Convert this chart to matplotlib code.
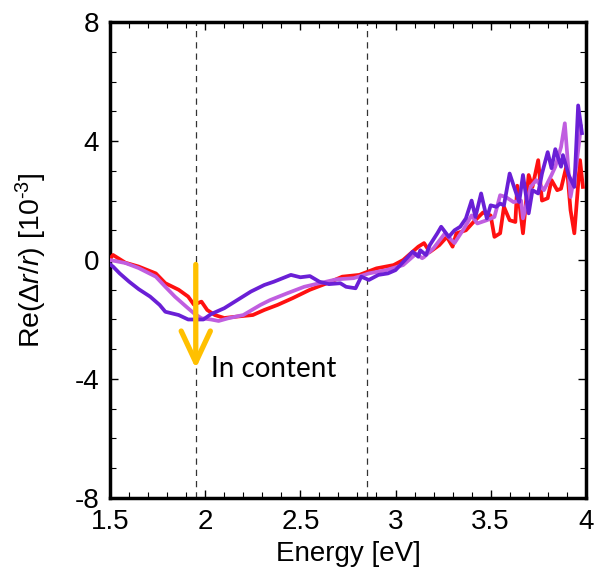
import matplotlib.pyplot as plt
from matplotlib.ticker import MultipleLocator

plt.rcParams['font.family'] = ['Liberation Sans', 'DejaVu Sans']
plt.rcParams['mathtext.fontset'] = 'custom'
plt.rcParams['mathtext.rm'] = 'Liberation Sans'
plt.rcParams['mathtext.it'] = 'Liberation Sans:italic'

# energy in eV, Re(dr/r) in 1e-3
red_e = [1.50, 1.515, 1.58, 1.65, 1.74, 1.79, 1.86, 1.91, 1.94, 1.98, 2.01, 2.05, 2.10, 2.17,
         2.25, 2.31, 2.38, 2.46, 2.55, 2.64, 2.72, 2.81, 2.90, 2.99, 3.04, 3.12, 3.15, 3.18,
         3.23, 3.27, 3.30, 3.32, 3.37, 3.41, 3.46, 3.50, 3.52, 3.55, 3.57, 3.60, 3.63, 3.64,
         3.67, 3.70, 3.72, 3.75, 3.77, 3.80, 3.82, 3.85, 3.87, 3.90, 3.92, 3.94, 3.97, 3.985]
red_v = [0.05, 0.17, -0.09, -0.22, -0.45, -0.78, -1.0, -1.23, -1.5, -1.4, -1.68, -1.85, -1.95, -1.9,
         -1.85, -1.68, -1.51, -1.28, -1.0, -0.78, -0.56, -0.5, -0.28, -0.17, 0.0, 0.45, 0.57, 0.27,
         0.5, 0.78, 0.45, 0.9, 1.0, 1.28, 1.6, 1.5, 0.78, 0.9, 1.79, 1.34, 1.28, 2.5,
         0.9, 2.86, 2.46, 3.36, 2.0, 2.08, 2.69, 2.35, 2.4, 3.2, 1.68, 0.9, 3.36, 2.46]

orchid_e = [1.50, 1.515, 1.58, 1.65, 1.74, 1.79, 1.84, 1.90, 1.94, 1.98, 2.03, 2.07, 2.12, 2.20,
            2.29, 2.34, 2.43, 2.52, 2.60, 2.69, 2.78, 2.86, 2.95, 3.04, 3.11, 3.14, 3.15, 3.20,
            3.26, 3.31, 3.36, 3.40, 3.43, 3.48, 3.52, 3.55, 3.58, 3.62, 3.66, 3.67, 3.71, 3.74,
            3.78, 3.82, 3.84, 3.87, 3.89, 3.92, 3.95, 3.975]
orchid_v = [0.0, -0.02, -0.1, -0.27, -0.56, -0.9, -1.23, -1.57, -1.79, -1.96, -2.0, -2.05, -1.96, -1.85,
            -1.51, -1.35, -1.12, -0.9, -0.78, -0.65, -0.61, -0.45, -0.34, -0.17, 0.22, 0.06, 0.1, 0.4,
            0.9, 0.57, 1.06, 1.5, 1.23, 1.34, 1.45, 2.18, 2.12, 1.95, 2.0, 1.4, 2.46, 2.69,
            2.35, 2.86, 3.14, 3.8, 4.6, 2.12, 3.14, 4.5]

purple_e = [1.50, 1.515, 1.55, 1.60, 1.65, 1.71, 1.76, 1.79, 1.86, 1.91, 1.95, 1.99, 2.03, 2.10,
            2.17, 2.24, 2.31, 2.36, 2.45, 2.50, 2.55, 2.60, 2.65, 2.71, 2.74, 2.79, 2.82, 2.86,
            2.91, 2.96, 3.00, 3.05, 3.09, 3.12, 3.13, 3.16, 3.18, 3.22, 3.24, 3.28, 3.31, 3.34,
            3.37, 3.40, 3.42, 3.45, 3.48, 3.50, 3.53, 3.55, 3.57, 3.60, 3.62, 3.65, 3.67, 3.70,
            3.72, 3.75, 3.77, 3.80, 3.82, 3.84, 3.87, 3.88, 3.91, 3.94, 3.96, 3.98]
purple_v = [-0.15, -0.22, -0.45, -0.73, -0.98, -1.23, -1.51, -1.74, -1.85, -2.0, -2.0, -2.0, -1.82, -1.62,
            -1.34, -1.06, -0.84, -0.73, -0.5, -0.58, -0.54, -0.73, -0.81, -0.78, -0.9, -0.95, -0.56, -0.67,
            -0.5, -0.45, -0.34, 0.0, 0.28, 0.11, 0.33, 0.17, 0.5, 0.9, 1.12, 0.78, 1.0, 1.12,
            1.4, 2.0, 1.45, 2.24, 1.4, 1.84, 1.79, 1.9, 1.84, 2.91, 2.52, 1.95, 2.86, 1.57,
            2.35, 2.24, 2.91, 3.63, 3.09, 3.73, 3.14, 3.53, 2.86, 2.46, 5.2, 4.27]

markers_e = [1.95, 2.85]

fig = plt.figure(figsize=(6.02, 5.85), dpi=100)
ax = fig.add_axes([0.183, 0.149, 0.790, 0.813])

for xe in markers_e:
    ax.axvline(xe, color='#333333', lw=0.9, ls=(0, (5, 4)), zorder=1)

ax.plot(red_e, red_v, color='#ff1010', lw=2.7, zorder=3)
ax.plot(orchid_e, orchid_v, color='#c05ee0', lw=2.7, zorder=3)
ax.plot(purple_e, purple_v, color='#6a1fd6', lw=2.7, zorder=3)

# yellow arrow for the In content trend
ax.annotate('', xy=(1.95, -3.65), xytext=(1.95, -0.15),
            arrowprops=dict(arrowstyle='->,head_length=0.9,head_width=0.42',
                            mutation_scale=25, shrinkA=0, shrinkB=0,
                            color='#ffc000', lw=3.8), zorder=4)
ax.text(2.03, -3.65, 'In content', fontsize=20, family=['Lato', 'DejaVu Sans'],
        va='center', ha='left')

ax.set_xlim(1.5, 4)
ax.set_ylim(-8, 8)
ax.xaxis.set_major_locator(MultipleLocator(0.5))
ax.xaxis.set_minor_locator(MultipleLocator(0.1))
ax.yaxis.set_major_locator(MultipleLocator(4))
ax.yaxis.set_minor_locator(MultipleLocator(1))
ax.xaxis.set_major_formatter(plt.FuncFormatter(lambda v, p: f'{v:g}'))
ax.yaxis.set_major_formatter(plt.FuncFormatter(lambda v, p: f'{v:g}'))
ax.tick_params(which='both', direction='in', top=True, right=True, labelsize=20, pad=8)
ax.tick_params(which='major', length=6, width=1)
ax.tick_params(which='minor', length=4, width=0.8)
for sp in ax.spines.values():
    sp.set_linewidth(2.5)

ax.set_xlabel('Energy [eV]', fontsize=20, labelpad=4)
ax.set_ylabel(r'Re($\mathit{Δr/r}$) [10$^{\text{-3}}$]', fontsize=20.5, labelpad=18)

fig.savefig('out.png', dpi=100)
